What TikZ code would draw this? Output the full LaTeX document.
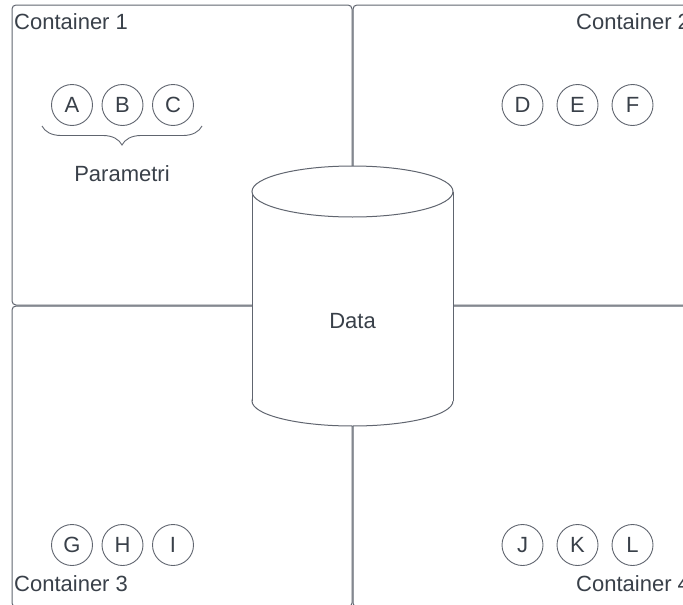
\documentclass[tikz,border=0pt]{standalone}
\usepackage{fontspec}
\setmainfont{Liberation Sans}
\usetikzlibrary{decorations.pathreplacing}
\definecolor{edge}{HTML}{60656F}
\definecolor{ink}{HTML}{394049}
\begin{document}
\begin{tikzpicture}[x=1pt,y=-1pt,
  box/.style={draw=edge,line width=1pt,rounded corners=4pt},
  param/.style={circle,draw=edge,line width=0.9pt,minimum size=41pt,inner sep=0pt,
    text=ink,font=\fontsize{22}{26}\selectfont},
  lbl/.style={text=ink,inner sep=0pt,font=\fontsize{22}{26}\selectfont}]
\useasboundingbox (0,0) rectangle (683,605);
\clip (0,0) rectangle (683,605);

% four containers
\draw[box] (12,5) rectangle (352,305);
\draw[box] (353,5) rectangle (720,305);
\draw[box] (12,306) rectangle (352,607);
\draw[box] (353,306) rectangle (720,607);

% container titles
\node[lbl,anchor=west] (t1) at (14,22) {Container 1};
\node[lbl,anchor=west] (t2) at (576,22) {Container 2};
\node[lbl,anchor=west] (t3) at (14,584) {Container 3};
\node[lbl,anchor=west] (t4) at (576,584) {Container 4};

% parameters
\node[param] (A) at (72,105) {A};
\node[param] (B) at (122.5,105) {B};
\node[param] (C) at (173,105) {C};
\node[param] (D) at (522.5,105) {D};
\node[param] (E) at (577.5,105) {E};
\node[param] (F) at (632.5,105) {F};
\node[param] (G) at (72,545) {G};
\node[param] (H) at (122.5,545) {H};
\node[param] (I) at (173,545) {I};
\node[param] (J) at (522.5,545) {J};
\node[param] (K) at (577.5,545) {K};
\node[param] (L) at (632.5,545) {L};

% brace under A, B, C
\coordinate (bl) at (42,126);
\coordinate (br) at (202,126);
\draw[edge,line width=0.9pt,decorate,decoration={brace,mirror,amplitude=19pt}] (bl) -- (br);
\node[lbl] (par) at (122,174) {Parametri};

% central data store
\filldraw[draw=edge,fill=white,line width=1pt] (352.5,401) ellipse [x radius=100.5pt, y radius=25pt];
\fill[white] (252,191.5) rectangle (453,401);
\draw[edge,line width=1pt] (252,191.5) -- (252,401) (453,191.5) -- (453,401);
\filldraw[draw=edge,fill=white,line width=1pt] (352.5,191.5) ellipse [x radius=100.5pt, y radius=25.5pt];
\node[lbl] (data) at (352.5,321) {Data};
\end{tikzpicture}
\end{document}
